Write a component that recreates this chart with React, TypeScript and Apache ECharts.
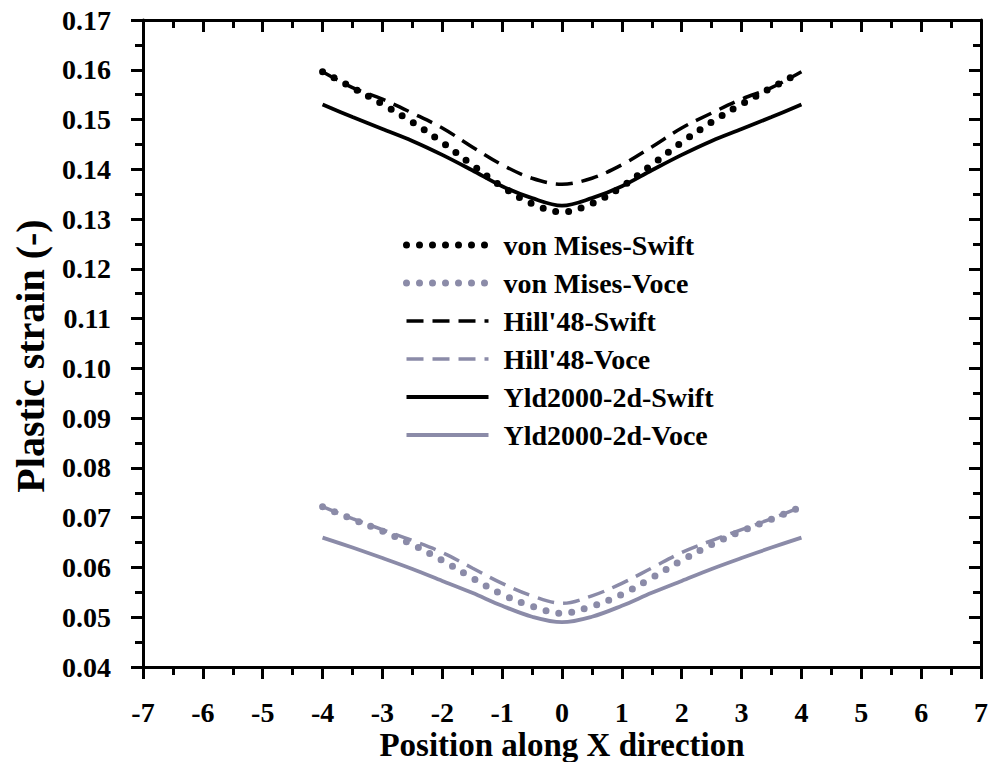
import React, { useEffect, useRef } from "react";
import * as echarts from "echarts";

const positions = [-4, -3.5, -3, -2.5, -2, -1.5, -1, -0.5, 0, 0.5, 1, 1.5, 2, 2.5, 3, 3.5, 4];

const vonMisesSwift = [0.1596, 0.1564, 0.1531, 0.1495, 0.1454, 0.1409, 0.1365, 0.1331, 0.1314, 0.1331, 0.1365, 0.1409, 0.1454, 0.1495, 0.1531, 0.1564, 0.1596];
const vonMisesVoce = [0.0722, 0.0697, 0.0673, 0.0646, 0.0614, 0.0579, 0.0546, 0.0522, 0.0508, 0.0522, 0.0546, 0.0579, 0.0614, 0.0646, 0.0673, 0.0697, 0.0722];
const hill48Swift = [0.1596, 0.1564, 0.1541, 0.1513, 0.1483, 0.1445, 0.1409, 0.1382, 0.137, 0.1382, 0.1409, 0.1445, 0.1483, 0.1513, 0.1541, 0.1564, 0.1596];
const hill48Voce = [0.0722, 0.0698, 0.0676, 0.0654, 0.063, 0.0599, 0.0568, 0.0543, 0.0528, 0.0543, 0.0568, 0.0599, 0.063, 0.0654, 0.0676, 0.0698, 0.0722];
const yld2000Swift = [0.153, 0.1505, 0.1481, 0.1457, 0.1429, 0.1398, 0.1366, 0.1342, 0.1327, 0.1342, 0.1366, 0.1398, 0.1429, 0.1457, 0.1481, 0.1505, 0.153];
const yld2000Voce = [0.066, 0.064, 0.0619, 0.0597, 0.0573, 0.0549, 0.0523, 0.0501, 0.049, 0.0501, 0.0523, 0.0549, 0.0573, 0.0597, 0.0619, 0.064, 0.066];

const seriesNames = [
  "von Mises-Swift",
  "von Mises-Voce",
  "Hill'48-Swift",
  "Hill'48-Voce",
  "Yld2000-2d-Swift",
  "Yld2000-2d-Voce",
];

const xTitle = "Position along X direction";
const yTitle = "Plastic strain (-)";

const BLACK = "#000000";
const GRAY = "#8b8ba8";
const FONT = "Liberation Serif";

export default function App() {
  const ref = useRef<HTMLDivElement>(null);
  useEffect(() => {
    if (!ref.current) return;
    const chart = echarts.init(ref.current, null, { renderer: "svg" });
    const pairs = (vals: number[]) => positions.map((x, i) => [x, vals[i]]);
    const dotted = (color: string) => ({ color, width: 7, type: [0, 13], cap: "round" });
    const dashed = (color: string) => ({ color, width: 3.5, type: [17, 9] });
    const solid = (color: string) => ({ color, width: 3.8, type: "solid" });
    const defs = [
      { vals: vonMisesSwift, ls: dotted(BLACK), color: BLACK },
      { vals: vonMisesVoce, ls: dotted(GRAY), color: GRAY },
      { vals: hill48Swift, ls: dashed(BLACK), color: BLACK },
      { vals: hill48Voce, ls: dashed(GRAY), color: GRAY },
      { vals: yld2000Swift, ls: solid(BLACK), color: BLACK },
      { vals: yld2000Voce, ls: solid(GRAY), color: GRAY },
    ];
    const axisLine = { show: true, onZero: false, lineStyle: { color: BLACK, width: 3 } };
    const tickStyle = { color: BLACK, width: 3 };
    const labelStyle = { color: BLACK, fontFamily: FONT, fontWeight: "bold" as const, fontSize: 28 };
    chart.setOption({
      animation: false,
      backgroundColor: "#ffffff",
      grid: { left: 143, right: 12, top: 20, bottom: 95, containLabel: false, outerBoundsMode: "none" },
      legend: {
        orient: "vertical",
        left: 398,
        top: 221,
        itemWidth: 82,
        itemHeight: 14,
        itemGap: 0,
        itemStyle: { opacity: 0 },
        data: seriesNames.map((n, i) => ({ name: n, lineStyle: { ...defs[i].ls, opacity: 1 }, itemStyle: { opacity: 0 } })),
        textStyle: { color: BLACK, fontFamily: FONT, fontWeight: "bold", fontSize: 28, lineHeight: 38, padding: [0, 0, 0, 10] },
      },
      graphic: [
        {
          type: "text",
          x: 30,
          y: 356,
          rotation: Math.PI / 2,
          style: {
            text: yTitle,
            fill: BLACK,
            font: `bold 40px "${FONT}"`,
            align: "center",
            verticalAlign: "middle",
          },
        },
      ],
      xAxis: [
        {
          type: "value",
          position: "bottom",
          min: -7,
          max: 7,
          interval: 1,
          name: xTitle,
          nameLocation: "middle",
          nameGap: 61,
          nameMoveOverlap: false,
          nameTextStyle: { color: BLACK, fontFamily: FONT, fontWeight: "bold", fontSize: 33 },
          axisLine,
          axisTick: { show: true, inside: false, length: 12, lineStyle: tickStyle },
          minorTick: { show: true, splitNumber: 2, length: 8, lineStyle: tickStyle },
          axisLabel: { ...labelStyle, margin: 31 },
          splitLine: { show: false },
        },
        {
          type: "value",
          position: "top",
          min: -7,
          max: 7,
          interval: 1,
          axisLine,
          axisTick: { show: true, inside: true, length: 12, lineStyle: tickStyle },
          minorTick: { show: true, splitNumber: 2, length: 8, lineStyle: tickStyle },
          axisLabel: { show: false },
          splitLine: { show: false },
        },
      ],
      yAxis: [
        {
          type: "value",
          position: "left",
          min: 0.04,
          max: 0.17,
          interval: 0.01,
          axisLine,
          axisTick: { show: true, inside: false, length: 12, lineStyle: tickStyle },
          minorTick: { show: true, splitNumber: 2, length: 8, lineStyle: tickStyle },
          axisLabel: { ...labelStyle, margin: 32, formatter: (v: number) => v.toFixed(2) },
          splitLine: { show: false },
        },
        {
          type: "value",
          position: "right",
          min: 0.04,
          max: 0.17,
          interval: 0.01,
          axisLine,
          axisTick: { show: true, inside: true, length: 12, lineStyle: tickStyle },
          minorTick: { show: true, splitNumber: 2, length: 8, lineStyle: tickStyle },
          axisLabel: { show: false },
          splitLine: { show: false },
        },
      ],
      series: defs.map((d, i) => ({
        name: seriesNames[i],
        type: "line",
        xAxisIndex: 0,
        yAxisIndex: 0,
        data: pairs(d.vals),
        smooth: 0.35,
        symbol: "none",
        showSymbol: false,
        color: d.color,
        itemStyle: { color: d.color },
        lineStyle: d.ls,
      })),
    });
    return () => chart.dispose();
  }, []);
  return (
    <div
      ref={ref}
      style={{ position: "fixed", left: 0, top: 0, width: 993, height: 762, background: "#fff" }}
    />
  );
}
